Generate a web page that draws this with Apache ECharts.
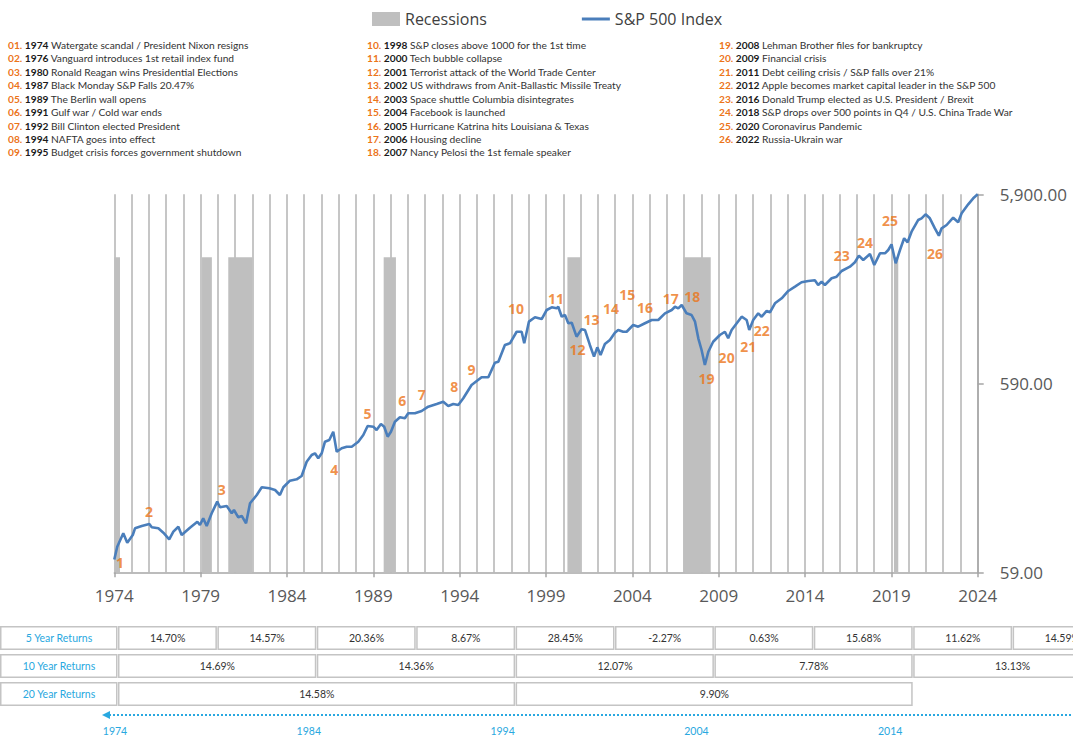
<!DOCTYPE html>
<html>
<head>
<meta charset="utf-8">
<title>S&amp;P 500 Index 1974 - 2024</title>
<script src="https://cdn.jsdelivr.net/npm/echarts@6.0.0/dist/echarts.min.js"></script>
<style>
  html, body { margin: 0; padding: 0; background: #fff; }
  #chart { width: 1073px; height: 738px; }
</style>
</head>
<body>
<div id="chart"></div>
<script>
// S&P 500 index (x = position on the year axis)
const spYears = [
  1974.00, 1974.17, 1974.52, 1974.75, 1975.07, 1975.20, 1975.59, 1976.03, 1976.17, 1976.55,
  1976.84, 1977.18, 1977.42, 1977.71, 1977.90, 1978.38, 1978.81, 1978.96, 1979.15, 1979.35,
  1979.64, 1979.96, 1980.12, 1980.51, 1980.80, 1980.93, 1981.18, 1981.38, 1981.63, 1981.86,
  1982.25, 1982.54, 1982.98, 1983.31, 1983.59, 1983.79, 1984.17, 1984.56, 1984.85, 1985.14,
  1985.43, 1985.62, 1985.81, 1986.01, 1986.20, 1986.45, 1986.68, 1986.88, 1987.17, 1987.46,
  1987.75, 1988.13, 1988.42, 1988.67, 1989.00, 1989.19, 1989.44, 1989.63, 1989.83, 1990.02,
  1990.25, 1990.54, 1990.83, 1991.02, 1991.41, 1991.80, 1992.18, 1992.67, 1993.05, 1993.34,
  1993.63, 1993.92, 1994.21, 1994.69, 1995.27, 1995.66, 1996.04, 1996.24, 1996.62, 1996.91,
  1997.30, 1997.59, 1997.74, 1998.01, 1998.36, 1998.75, 1999.04, 1999.33, 1999.62, 1999.71,
  1999.91, 2000.10, 2000.29, 2000.49, 2000.77, 2001.06, 2001.26, 2001.54, 2001.78, 2001.97,
  2002.16, 2002.41, 2002.70, 2002.99, 2003.18, 2003.47, 2003.67, 2004.05, 2004.34, 2004.73,
  2005.12, 2005.50, 2005.89, 2006.28, 2006.47, 2006.66, 2006.86, 2007.14, 2007.43, 2007.63,
  2007.82, 2008.01, 2008.20, 2008.40, 2008.68, 2009.07, 2009.36, 2009.55, 2009.75, 2010.33,
  2010.62, 2010.77, 2011.00, 2011.29, 2011.49, 2011.78, 2011.97, 2012.26, 2012.65, 2013.03,
  2013.42, 2013.80, 2014.19, 2014.57, 2014.76, 2014.96, 2015.15, 2015.54, 2015.83, 2016.12,
  2016.60, 2016.89, 2017.12, 2017.37, 2017.76, 2018.01, 2018.34, 2018.63, 2018.82, 2019.01,
  2019.25, 2019.50, 2019.74, 2019.94, 2020.17, 2020.55, 2020.75, 2020.98, 2021.23, 2021.52,
  2021.75, 2021.91, 2022.20, 2022.58, 2022.87, 2023.07, 2023.45, 2023.74, 2024.00
]
const spValues = [
  69, 80.6, 94.9, 84.6, 92.9, 100.8, 103.7, 106.3, 102.1, 100.8,
  95.6, 88.2, 96.8, 102.8, 92.9, 101.6, 109.3, 105.0, 113.9, 103.7,
  121.1, 139.5, 130.3, 132.4, 121.1, 126.0, 115.3, 117.2, 107.1, 136.8,
  151.3, 166.2, 164.2, 160.8, 151.3, 166.2, 180.1, 183.2, 190.7, 227.0,
  246.3, 251.5, 236.6, 251.5, 289.6, 295.7, 327.2, 256.4, 267.3, 272.5,
  272.5, 289.6, 314.3, 350.8, 347.7, 334.0, 359.4, 347.7, 307.9, 327.2,
  369.6, 389.9, 385.2, 409.4, 409.4, 421.0, 443.6, 458.5, 471.5, 447.5,
  458.5, 452.9, 491.4, 577.9, 634.9, 634.9, 758.3, 767.6, 941.1, 960.6,
  1106, 1106, 960.6, 1250, 1319, 1291, 1441, 1489, 1471, 1500,
  1328, 1356, 1226, 1234, 1041, 1139, 1129, 941.1, 816, 914.6,
  833, 952, 1000, 1093, 1129, 1106, 1106, 1200, 1176, 1226,
  1276, 1276, 1384, 1441, 1500, 1471, 1532, 1384, 1356, 1250,
  1021, 885, 737.5, 867, 979, 1063, 1106, 1021, 1129, 1328,
  1276, 1129, 1276, 1384, 1328, 1424, 1401, 1563, 1662, 1817,
  1915, 2020, 2052, 2070, 1955, 2034, 1955, 2121, 2162, 2318,
  2443, 2577, 2793, 2650, 2851, 2494, 2875, 2875, 2993, 3208,
  2546, 2993, 3453, 3288, 3741, 4313, 4404, 4624, 4404, 3899,
  3563, 3899, 4059, 4436, 4195, 4681, 5223, 5619, 5900
]

// recession bands (start / end on the year axis)
const recessionStart = [1974.00, 1979.08, 1980.60, 1989.60, 2000.24, 2006.95, 2019.15]
const recessionEnd = [1974.33, 1979.65, 1982.00, 1990.31, 2001.01, 2008.54, 2019.40]

// event list
const eventYears = [
  '1974', '1976', '1980', '1987', '1989', '1991', '1992', '1994', '1995',
  '1998', '2000', '2001', '2002', '2003', '2004', '2005', '2006', '2007',
  '2008', '2009', '2011', '2012', '2016', '2018', '2020', '2022'
]
const eventTexts = [
  'Watergate scandal / President Nixon resigns',
  'Vanguard introduces 1st retail index fund',
  'Ronald Reagan wins Presidential Elections',
  'Black Monday S&P Falls 20.47%',
  'The Berlin wall opens',
  'Gulf war / Cold war ends',
  'Bill Clinton elected President',
  'NAFTA goes into effect',
  'Budget crisis forces government shutdown',
  'S&P closes above 1000 for the 1st time',
  'Tech bubble collapse',
  'Terrorist attack of the World Trade Center',
  'US withdraws from Anit-Ballastic Missile Treaty',
  'Space shuttle Columbia disintegrates',
  'Facebook is launched',
  'Hurricane Katrina hits Louisiana & Texas',
  'Housing decline',
  'Nancy Pelosi the 1st female speaker',
  'Lehman Brother files for bankruptcy',
  'Financial crisis',
  'Debt ceiling crisis / S&P falls over 21%',
  'Apple becomes market capital leader in the S&P 500',
  'Donald Trump elected as U.S. President / Brexit',
  'S&P drops over 500 points in Q4 / U.S. China Trade War',
  'Coronavirus Pandemic',
  'Russia-Ukrain war'
]

// where the event numbers sit in the chart
const markerYears = [
  1974.33, 1976.01, 1980.22, 1986.74, 1988.67, 1990.68, 1991.80, 1993.69, 1994.69,
  1997.26, 1999.58, 2000.83, 2001.64, 2002.76, 2003.70, 2004.73, 2006.22, 2007.47,
  2008.30, 2009.46, 2010.71, 2011.49, 2016.12, 2017.47, 2018.92, 2021.52
]
const markerValues = [
  66.7, 124.5, 162.2, 205.2, 405.9, 481.3, 511.9, 570.9, 699.8,
  1459, 1648, 892.7, 1276, 1471, 1751, 1489, 1662, 1709,
  627.2, 810, 921.6, 1120, 2793, 3271, 4262, 2875
]

// rolling returns table
const fiveYearReturns = ['14.70%', '14.57%', '20.36%', '8.67%', '28.45%', '-2.27%', '0.63%', '15.68%', '11.62%', '14.59%']
const tenYearReturns = ['14.69%', '14.36%', '12.07%', '7.78%', '13.13%']
const twentyYearReturns = ['14.58%', '9.90%']
const periodYears = ['1974', '1984', '1994', '2004', '2014']

const orange = '#ec7419'
const blue = '#4a7ebb'
const tableBlue = '#29a8e0'
const gridGray = '#b3b3b3'

const chart = echarts.init(document.getElementById('chart'), null, { renderer: 'svg' })

function headerItems() {
  const cols = [8, 367, 719]
  return eventTexts.map((t, i) => {
    const num = (i + 1 < 10 ? '0' : '') + (i + 1) + '.'
    return {
      type: 'text',
      x: cols[Math.floor(i / 9)],
      y: 45 + (i % 9) * 13.43,
      style: {
        text: '{n|' + num + '} {y|' + eventYears[i] + '} ' + t,
        font: '10.2px Lato',
        fill: '#333',
        verticalAlign: 'middle',
        rich: {
          n: { fill: orange, font: 'bold 10.2px Lato' },
          y: { fill: '#1a1a1a', font: 'bold 10.2px Lato' }
        }
      },
      silent: true
    }
  })
}

function cell(x, y, w, h, text, color) {
  return [
    {
      type: 'rect',
      shape: { x: x + 0.75, y: y + 0.75, width: w - 2, height: h - 1.5 },
      style: { fill: '#fff', stroke: '#c4c4c4', lineWidth: 1.5 },
      silent: true
    },
    {
      type: 'text',
      x: x + w / 2,
      y: y + h / 2,
      style: { text: text, fill: color, font: '10.5px Lato', align: 'center', verticalAlign: 'middle' },
      silent: true
    }
  ]
}

function tableItems() {
  let items = []
  const rows = [
    { label: '5 Year Returns', values: fiveYearReturns, y: 626, w: 99.4 },
    { label: '10 Year Returns', values: tenYearReturns, y: 654, w: 198.8 },
    { label: '20 Year Returns', values: twentyYearReturns, y: 682, w: 397.6 }
  ]
  rows.forEach(r => {
    items = items.concat(cell(0, r.y, 118, 24, r.label, tableBlue))
    r.values.forEach((v, i) => {
      items = items.concat(cell(118 + i * r.w, r.y, r.w, 24, v, '#333'))
    })
  })
  items.push({
    type: 'line',
    shape: { x1: 109, y1: 715, x2: 1073, y2: 715 },
    style: { stroke: tableBlue, lineWidth: 2, lineDash: [2, 2] },
    silent: true
  })
  items.push({
    type: 'polygon',
    shape: { points: [[102, 715], [110, 711], [110, 719]] },
    style: { fill: tableBlue },
    silent: true
  })
  periodYears.forEach((p, i) => {
    items.push({
      type: 'text',
      x: 115 + i * 193.8,
      y: 731,
      style: { text: p, fill: tableBlue, font: '10.5px Lato', align: 'center', verticalAlign: 'middle' },
      silent: true
    })
  })
  return items
}

chart.setOption({
  animation: false,
  backgroundColor: '#fff',
  legend: {
    top: 11,
    left: 372,
    padding: 0,
    itemWidth: 28,
    itemHeight: 14,
    itemGap: 95,
    selectedMode: false,
    textStyle: { fontSize: 16, color: '#404040', fontFamily: 'Open Sans' },
    data: [
      { name: 'Recessions', icon: 'rect' },
      { name: 'S&P 500 Index', icon: 'path://M0,0 H28 V3 H0 Z' }
    ]
  },
  grid: {
    left: 114.3,
    right: 95.3,
    top: 194.3,
    bottom: 165.7,
    containLabel: false,
    outerBoundsMode: 'none'
  },
  xAxis: {
    type: 'value',
    min: 1974,
    max: 2024,
    interval: 5,
    axisLine: { show: true, lineStyle: { color: '#a6a6a6', width: 1.5 } },
    axisTick: { show: true, length: 5, lineStyle: { color: '#a6a6a6', width: 1.5 } },
    axisLabel: {
      color: '#595959',
      fontSize: 17,
      fontFamily: 'Open Sans',
      margin: 15,
      formatter: v => String(v)
    },
    splitLine: { show: true, lineStyle: { color: gridGray, width: 1.5 } },
    minorTick: { show: false, splitNumber: 5 },
    minorSplitLine: { show: true, lineStyle: { color: gridGray, width: 1.5 } }
  },
  yAxis: [
    {
      type: 'log',
      logBase: 10,
      min: 59,
      max: 5900,
      interval: 1,
      position: 'right',
      axisLine: { show: true, lineStyle: { color: '#a6a6a6', width: 1.5 } },
      axisTick: { show: true, length: 6, lineStyle: { color: '#a6a6a6', width: 1.5 } },
      splitLine: { show: false },
      axisLabel: {
        color: '#595959',
        fontSize: 17,
        fontFamily: 'Open Sans',
        margin: 22,
        formatter: v => Number(Number(v).toPrecision(2)).toLocaleString('en-US', { minimumFractionDigits: 2, maximumFractionDigits: 2 })
      }
    },
    { type: 'value', min: 0, max: 1.2, show: false }
  ],
  series: [
    {
      name: 'Recessions',
      type: 'custom',
      yAxisIndex: 1,
      silent: true,
      itemStyle: { color: '#bfbfbf' },
      encode: { x: [0, 1], y: 2 },
      data: recessionStart.map((s, i) => [s, recessionEnd[i], 1]),
      renderItem: function (params, api) {
        const topLeft = api.coord([api.value(0), api.value(2)])
        const bottomRight = api.coord([api.value(1), 0])
        return {
          type: 'rect',
          shape: {
            x: topLeft[0],
            y: topLeft[1],
            width: bottomRight[0] - topLeft[0],
            height: bottomRight[1] - topLeft[1]
          },
          style: { fill: '#bfbfbf' }
        }
      },
      z: 1
    },
    {
      name: 'S&P 500 Index',
      type: 'line',
      symbol: 'none',
      data: spYears.map((y, i) => [y, spValues[i]]),
      lineStyle: { color: blue, width: 2.6 },
      itemStyle: { color: blue },
      z: 3
    },
    {
      name: 'Events',
      type: 'scatter',
      symbolSize: 1,
      itemStyle: { color: 'rgba(0,0,0,0)' },
      silent: true,
      data: markerYears.map((y, i) => [y, markerValues[i], i + 1]),
      label: {
        show: true,
        position: 'inside',
        formatter: p => String(p.data[2]),
        color: orange,
        fontSize: 14,
        fontWeight: 'bold',
        fontFamily: 'Open Sans'
      },
      z: 4
    }
  ],
  graphic: headerItems().concat(tableItems())
})
</script>
</body>
</html>
